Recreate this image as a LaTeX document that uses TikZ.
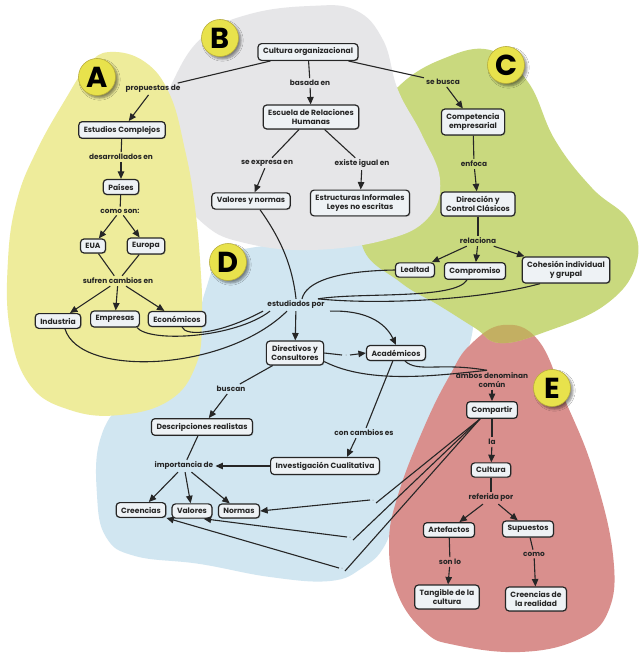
\documentclass[tikz,border=0pt]{standalone}
\usepackage{fontspec}
\setmainfont{Poppins}
\usetikzlibrary{arrows.meta,shadows,shadows.blur}

\definecolor{zoneA}{HTML}{EEEC9B}
\definecolor{zoneB}{HTML}{E6E6E8}
\definecolor{zoneC}{HTML}{C9D97E}
\definecolor{zoneD}{HTML}{D1E6F1}
\definecolor{zoneE}{HTML}{D98F8D}
\definecolor{zoneCE}{HTML}{C3AF62}
\definecolor{boxfill}{HTML}{EEF2F5}
\definecolor{ink}{HTML}{262626}
\definecolor{badgefill}{HTML}{E8E24C}
\definecolor{badgeline}{HTML}{B9AE3A}

\tikzset{
  concept/.style={draw=ink, fill=boxfill, line width=1.2bp, rounded corners=3.5bp,
    font=\fontsize{7.6}{9.2}\selectfont\bfseries, text=ink, align=center,
    inner xsep=5bp, inner ysep=4.3bp,
    drop shadow={shadow xshift=0.9bp, shadow yshift=-0.9bp, opacity=0.35}},
  phrase/.style={font=\fontsize{7.4}{9}\selectfont\bfseries, text=ink,
    align=center, inner sep=2bp},
  link/.style={draw=ink, line width=1.1bp},
  arr/.style={link, -{Triangle[length=7.5bp,width=6.5bp]}},
  badge/.style={circle, minimum size=37bp, inner sep=0pt, fill=badgefill,
    draw=badgeline, line width=0.6bp, text=black,
    font=\fontsize{29}{29}\selectfont\bfseries,
    blur shadow={shadow xshift=2.5bp, shadow yshift=-2.5bp, shadow blur steps=6, shadow opacity=45}},
  zone/.style={smooth cycle, tension=0.7},
}

\begin{document}
\begin{tikzpicture}[x=1bp, y=-1bp]
  \useasboundingbox (0,0) rectangle (639,653);
  \fill[white] (0,0) rectangle (639,653);

  % ---------- coloured zones ----------
  \fill[zoneD] plot[zone] coordinates {(205,292) (220,258) (250,248) (310,242) (370,238) (430,255) (470,300) (465,360) (430,430) (400,500) (385,545) (362,568) (330,581) (270,577) (200,564) (135,556) (106,537) (97,495) (100,440) (125,400) (170,370) (195,330)};
  \path[save path=\zoneEpath] plot[zone] coordinates {(470,345) (503,325) (538,340) (565,400) (593,470) (613,555) (608,612) (577,640) (520,652) (455,645) (425,632) (398,595) (389,545) (398,495) (425,425) (450,375)};
  \fill[zoneE, use path=\zoneEpath];
  \path[save path=\zoneCpath] plot[zone] coordinates {(398,87) (440,60) (490,50) (528,82) (555,140) (592,188) (630,222) (636,265) (605,305) (545,332) (500,343) (475,328) (440,306) (400,282) (362,245) (370,180) (378,120)};
  \fill[zoneC, use path=\zoneCpath];
  \begin{scope}
    \clip[use path=\zoneCpath];
    \fill[zoneCE, use path=\zoneEpath];
  \end{scope}
  \fill[zoneB] plot[zone] coordinates {(163,120) (176,75) (205,35) (250,14) (310,6) (355,10) (383,40) (398,90) (422,135) (440,180) (428,218) (385,240) (310,250) (245,243) (205,225) (176,185)};
  \fill[zoneA] plot[zone] coordinates {(110,52) (145,62) (170,95) (185,150) (194,200) (200,260) (202,320) (196,365) (170,400) (120,415) (70,410) (30,385) (10,330) (8,260) (17,200) (37,150) (65,100) (88,65)};

  % ---------- zone badges ----------
  \node[badge] (bA) at (97,77) {A};
  \node[badge] (bB) at (220,38) {B};
  \node[badge] (bC) at (506,65) {C};
  \node[badge] (bD) at (228,262) {D};
  \node[badge] (bE) at (552,388) {E};

  % ---------- concepts ----------
  \node[concept] (co)  at (308,52)  {Cultura organizacional};
  \node[concept] (er)  at (311,117) {Escuela de Relaciones\\Humanas};
  \node[concept] (vn)  at (251,201) {Valores y normas};
  \node[concept] (ei)  at (360,203) {Estructuras Informales\\Leyes no escritas};
  \node[concept] (ec)  at (122,130) {Estudios Complejos};
  \node[concept] (pa)  at (121,187) {Países};
  \node[concept] (eua) at (93,246)  {EUA};
  \node[concept] (eu)  at (146,246) {Europa};
  \node[concept] (ind) at (58,321)  {Industria};
  \node[concept] (emp) at (115,319) {Empresas};
  \node[concept] (eco) at (177,319) {Económicos};
  \node[concept] (ce)  at (473,122) {Competencia\\empresarial};
  \node[concept] (dc)  at (478,204) {Dirección y\\Control Clásicos};
  \node[concept] (lea) at (415,270) {Lealtad};
  \node[concept] (com) at (475,271) {Compromiso};
  \node[concept] (coh) at (566,270) {Cohesión individual\\y grupal};
  \node[concept] (dir) at (295,353) {Directivos y\\Consultores};
  \node[concept] (aca) at (396,353) {Académicos};
  \node[concept] (cp)  at (492,410) {Compartir};
  \node[concept] (cu)  at (491,470) {Cultura};
  \node[concept] (art) at (449,530) {Artefactos};
  \node[concept] (sup) at (528,529) {Supuestos};
  \node[concept] (tan) at (447,597) {Tangible de la\\cultura};
  \node[concept] (cr)  at (536,599) {Creencias de\\la realidad};
  \node[concept] (dr)  at (202,427) {Descripciones realistas};
  \node[concept] (ic)  at (325,466) {Investigación Cualitativa};
  \node[concept] (cre) at (141,510) {Creencias};
  \node[concept] (val) at (192,511) {Valores};
  \node[concept] (nor) at (239,511) {Normas};

  % ---------- linking phrases ----------
  \node[phrase] (lBasada) at (310,83)  {basada en};
  \node[phrase] (lExpr)   at (267,163) {se expresa en};
  \node[phrase] (lExiste) at (362,164) {existe igual en};
  \node[phrase] (lProp)   at (153,89)  {propuestas de};
  \node[phrase] (lDes)    at (121,157) {desarrollados en};
  \node[phrase] (lComo)   at (120,211) {como son:};
  \node[phrase] (lSuf)    at (118,281) {sufren cambios en};
  \node[phrase] (lBusca)  at (443,82)  {se busca};
  \node[phrase] (lEnf)    at (474,164) {enfoca};
  \node[phrase] (lRel)    at (478,241) {relaciona};
  \node[phrase] (lEst)    at (296,305) {estudiados por};
  \node[phrase] (lAmb)    at (492,380) {ambos denominan\\común};
  \node[phrase] (lLa)     at (492,442) {la};
  \node[phrase] (lRef)    at (491,498) {referida por};
  \node[phrase] (lSon)    at (450,562) {son lo};
  \node[phrase] (lComo2)  at (534,554) {como};
  \node[phrase] (lBus)    at (231,389) {buscan};
  \node[phrase] (lImp)    at (184,466) {importancia de};
  \node[phrase] (lCon)    at (364,433) {con cambios es};

  % empty linking phrases
  \coordinate (gDA) at (346,355);
  \coordinate (g1) at (373,500);
  \coordinate (g2) at (350,537);
  \coordinate (g3) at (342,568);
  \foreach \g in {gDA,g1,g2,g3} \fill[ink!60] (\g) circle (0.5bp);

  % ---------- connectors: zone B ----------
  \draw[link] (co) -- (lProp);
  \draw[link] (co) -- (lBasada);
  \draw[arr]  (lBasada) -- (er);
  \draw[link] (co) -- (lBusca);
  \draw[link] (er) -- (lExpr);
  \draw[arr]  (lExpr) -- (vn);
  \draw[link] (er) -- (lExiste);
  \draw[arr]  (lExiste) -- (ei);

  % ---------- connectors: zone A ----------
  \draw[arr]  (lProp) -- (ec);
  \draw[link] (ec) -- (lDes);
  \draw[arr]  (lDes) -- (pa);
  \draw[link] (pa) -- (lComo);
  \draw[arr]  (lComo) -- (eua);
  \draw[arr]  (lComo) -- (eu);
  \draw[link] (eua) -- (lSuf);
  \draw[link] (eu) -- (lSuf);
  \draw[arr]  (lSuf) -- (ind);
  \draw[arr]  (lSuf) -- (emp);
  \draw[arr]  (lSuf) -- (eco);

  % ---------- connectors: zone C ----------
  \draw[arr]  (lBusca) -- (ce);
  \draw[link] (ce) -- (lEnf);
  \draw[arr]  (lEnf) -- (dc);
  \draw[link] (dc) -- (lRel);
  \draw[arr]  (lRel) -- (lea);
  \draw[arr]  (lRel) -- (com);
  \draw[arr]  (lRel) -- (coh);

  % ---------- connectors into "estudiados por" ----------
  \draw[link] ([xshift=9bp]vn.south) .. controls (278,235) and (292,262) .. (lEst.north);
  \draw[link] ([xshift=7bp]ind.south) .. controls (80,378) and (225,372) .. ([xshift=-9bp]lEst.south);
  \draw[link] ([xshift=22bp]emp.south) .. controls (150,343) and (235,338) .. ([xshift=-26bp]lEst.south);
  \draw[link] ([xshift=5bp]eco.south) .. controls (186,337) and (220,334) .. ([xshift=-33bp]lEst.south);
  \draw[link] (lea.west) .. controls (335,271) and (306,282) .. ([xshift=6bp]lEst.north);
  \draw[link] ([xshift=-8bp]com.south) .. controls (455,300) and (360,292) .. ([xshift=22bp]lEst.north);
  \draw[link] ([xshift=-26bp]coh.south) .. controls (480,300) and (380,305) .. ([xshift=22bp]lEst.north);

  % ---------- connectors: zone D ----------
  \draw[arr]  (lEst) -- (dir);
  \draw[arr]  ([xshift=34bp]lEst.south) .. controls (365,310) and (385,322) .. (aca.north);
  \draw[link] (dir.east) -- ([xshift=-4bp]gDA);
  \draw[arr]  ([xshift=4bp]gDA) -- (aca.west);
  \draw[link] ([yshift=4bp]dir.south east) .. controls (370,385) and (440,375) .. ([xshift=-5bp]lAmb.north);
  \draw[link] ([xshift=9bp]aca.south) .. controls (418,373) and (440,362) .. ([xshift=-5bp]lAmb.north);
  \draw[link] (aca) -- (lCon);
  \draw[arr]  ([xshift=-8bp]lCon.south) -- ([xshift=22bp]ic.north);
  \draw[arr]  (ic.west) -- (lImp.east);
  \draw[link] (dr) -- (lImp);
  \draw[link] (dir) -- (lBus);
  \draw[arr]  (lBus) -- (dr);
  \draw[arr]  (lImp) -- (cre);
  \draw[arr]  (lImp) -- (val);
  \draw[arr]  (lImp) -- (nor);

  % ---------- connectors: zone E ----------
  \draw[arr]  (lAmb) -- (cp);
  \draw[link] (cp) -- (lLa);
  \draw[arr]  (lLa) -- (cu);
  \draw[link] (cu) -- (lRef);
  \draw[arr]  (lRef) -- (art);
  \draw[arr]  (lRef) -- (sup);
  \draw[link] (art) -- (lSon);
  \draw[arr]  (lSon) -- (tan);
  \draw[link] (sup) -- (lComo2);
  \draw[arr]  (lComo2) -- (cr);

  % Compartir back to the three values
  \draw[link] ([xshift=-12bp]cp.south) -- ([shift={(3bp,-3bp)}]g1);
  \draw[arr]  ([xshift=-3bp]g1) -- (nor.east);
  \draw[link] ([xshift=-12bp]cp.south) -- ([shift={(3bp,-3bp)}]g2);
  \draw[arr]  ([xshift=-3bp]g2) -- ([xshift=-9bp]val.south east);
  \draw[link] ([xshift=-12bp]cp.south) -- ([shift={(3bp,-3bp)}]g3);
  \draw[arr]  ([xshift=-3bp]g3) -- (cre.south east);
\end{tikzpicture}
\end{document}
